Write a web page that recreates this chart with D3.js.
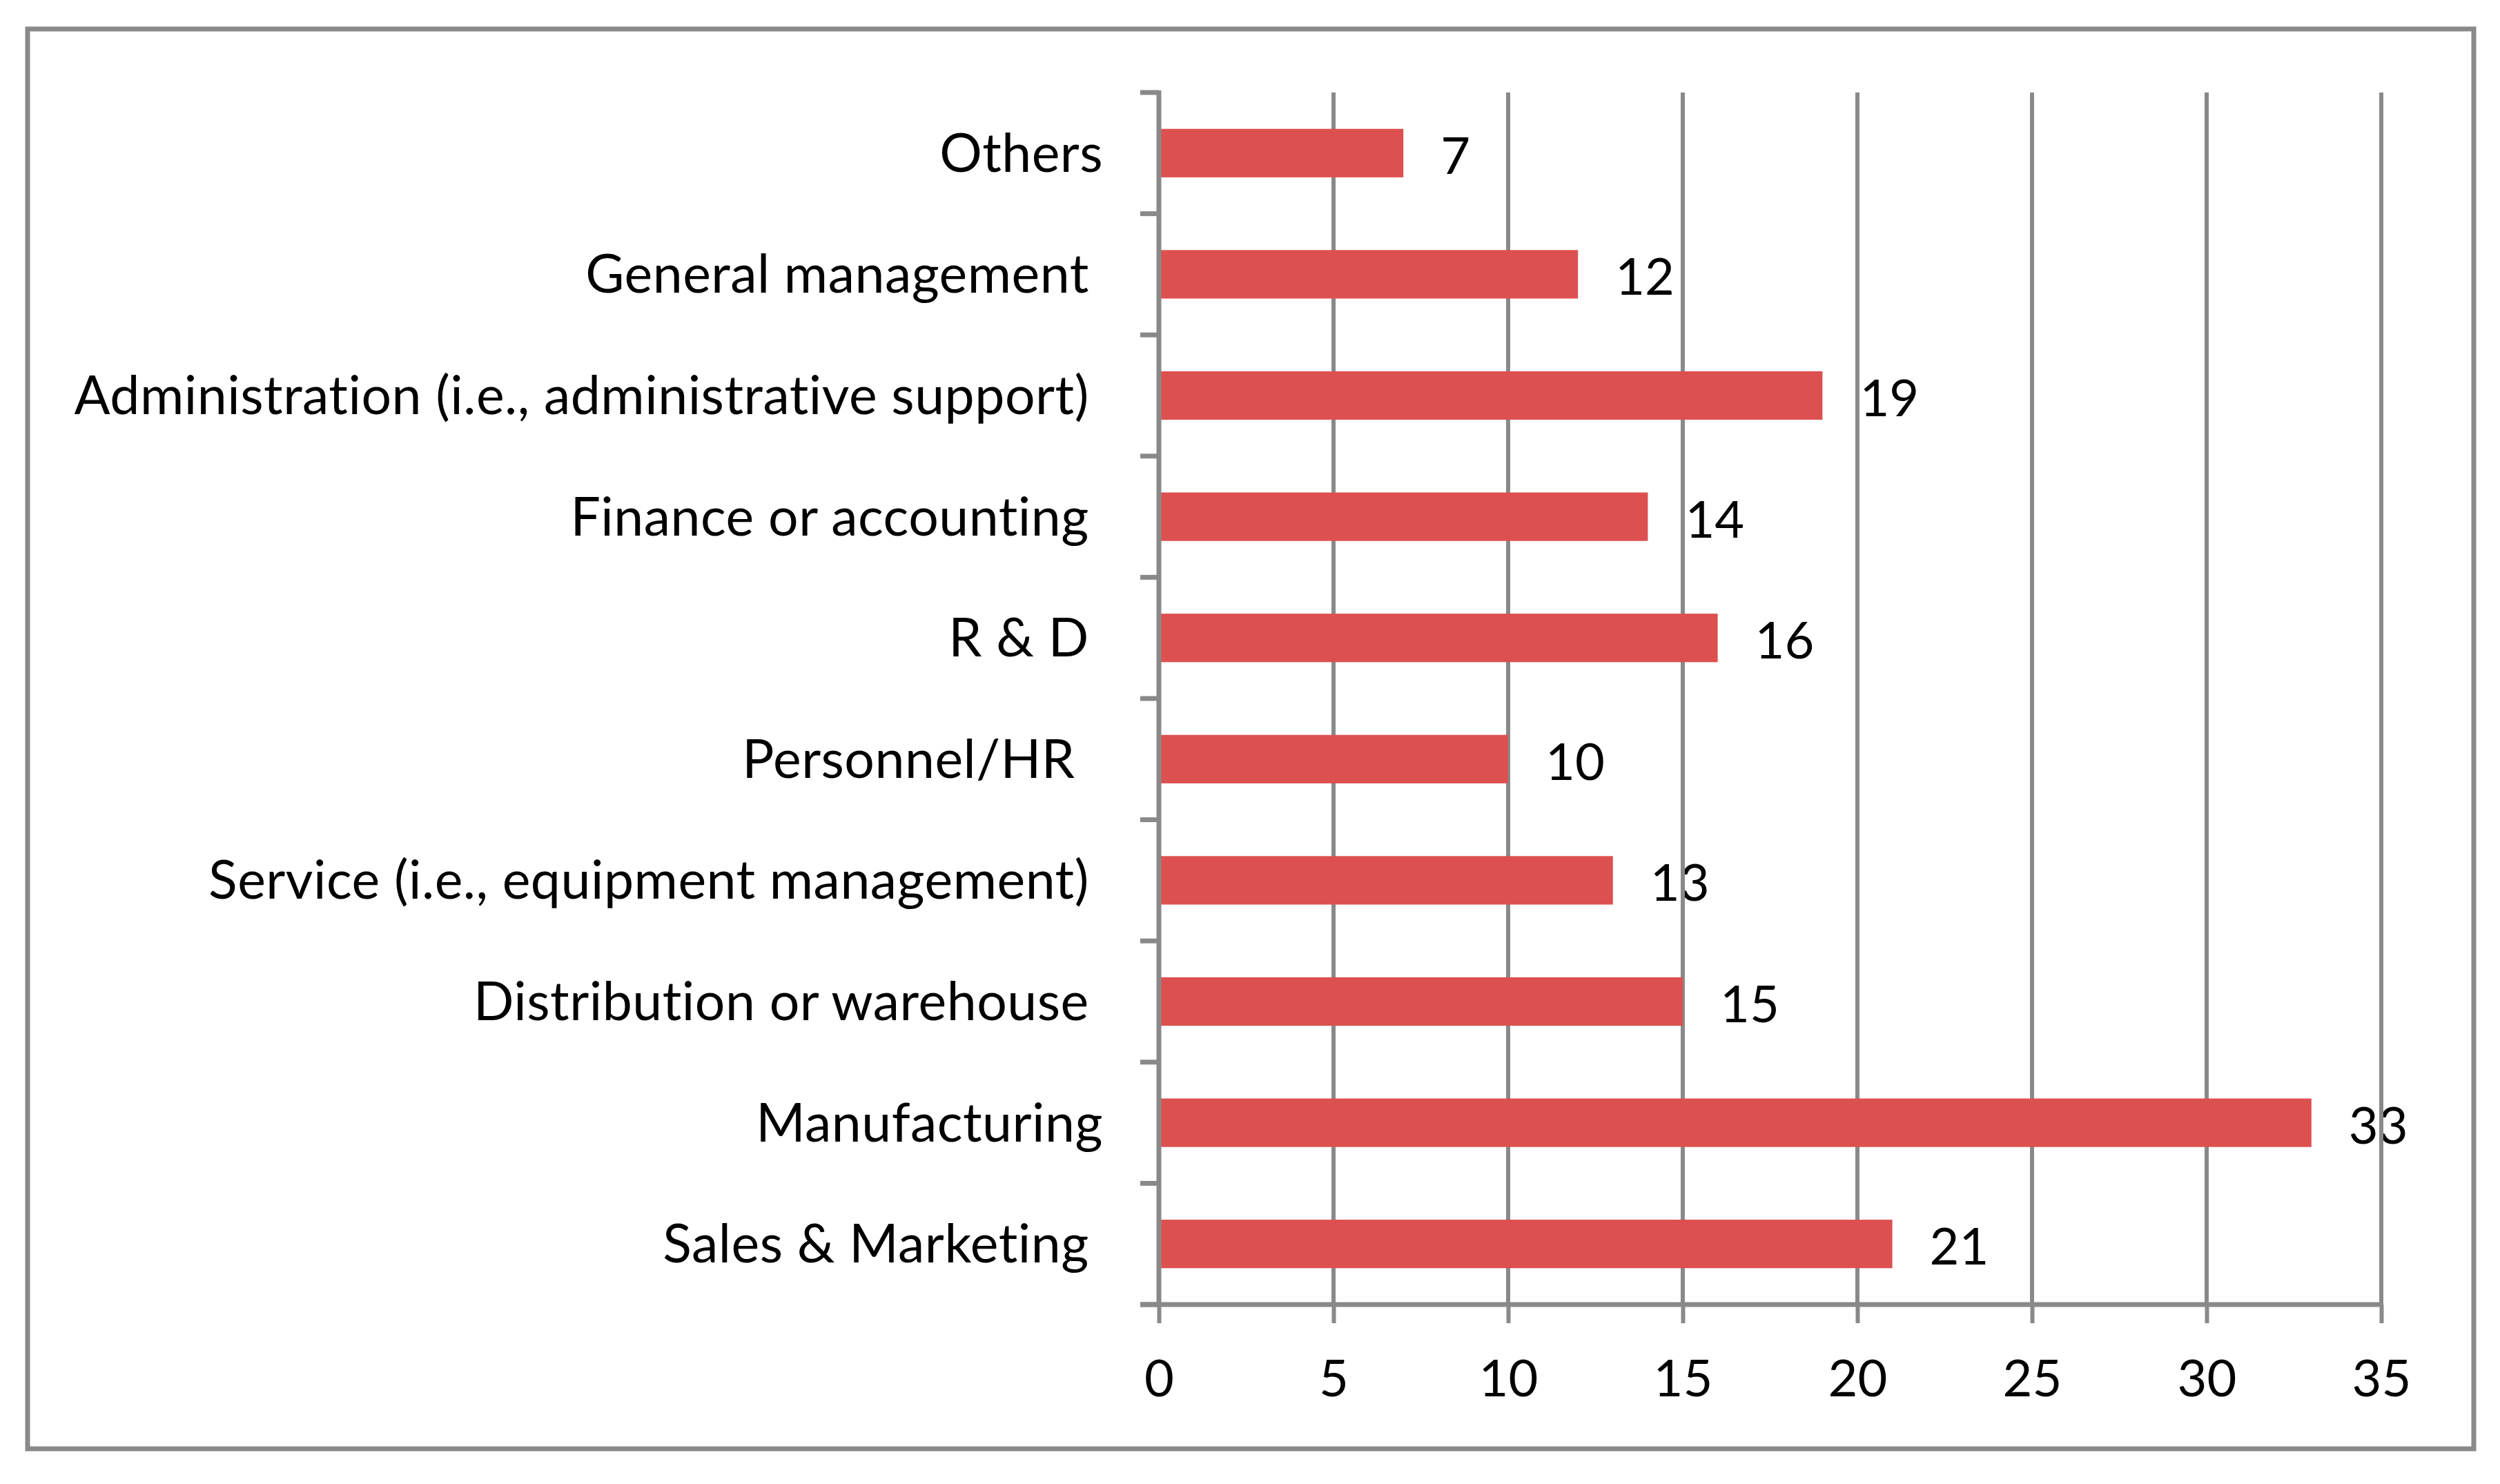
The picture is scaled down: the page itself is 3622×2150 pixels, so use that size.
<html lang="en">
  <head>
    <meta charset="utf-8">
    <script src="https://d3js.org/d3.v7.min.js"></script>
    <style type="text/css">
body {
  margin: 0;
  background: #fff;
}
text {
  font-family: Lato, "Open Sans", sans-serif;
  font-variant-ligatures: none;
  white-space: pre;
}
    </style>
  </head>
  <body>
    <div id="chart"></div>

    <script type="text/javascript">
// categories top to bottom; trailing spaces are in the source labels
const categories = [
  "Others",
  "General management ",
  "Administration (i.e., administrative support) ",
  "Finance or accounting ",
  "R & D ",
  "Personnel/HR  ",
  "Service (i.e., equipment management) ",
  "Distribution or warehouse ",
  "Manufacturing",
  "Sales & Marketing "
];
const values = [7, 12, 19, 14, 16, 10, 13, 15, 33, 21];
const xTicks = [0, 5, 10, 15, 20, 25, 30, 35];

const width = 3622;
const height = 2150;
const plot = {left: 1679, right: 3450, top: 134, bottom: 1890};
const grey = "#898989";
const barColor = "#dd5050";
const numSize = 74;
const labelSize = 77;

let x = d3.scaleLinear()
  .domain([0, 35])
  .range([plot.left, plot.right]);

let y = d3.scaleBand()
  .domain(categories)
  .range([plot.top, plot.bottom]);

let barH = y.bandwidth() * 0.4;

let svg = d3.select("#chart").append("svg")
  .attr("width", width)
  .attr("height", height)
  .attr("viewBox", [0, 0, width, height]);

svg.append("rect")
  .attr("width", width)
  .attr("height", height)
  .attr("fill", "#fff");

// outer chart border
svg.append("rect")
  .attr("x", 40)
  .attr("y", 42)
  .attr("width", 3544)
  .attr("height", 2057)
  .attr("fill", "none")
  .attr("stroke", grey)
  .attr("stroke-width", 7);

// value labels (gridlines are painted over them, as in the original)
svg.append("g")
  .selectAll("text")
  .data(values)
  .join("text")
    .attr("x", d => x(d) + 54)
    .attr("y", (d, i) => y(categories[i]) + y.bandwidth() / 2 + 30)
    .attr("font-size", numSize)
    .attr("fill", "#000")
    .text(d => d);

// vertical gridlines
svg.append("g")
  .selectAll("line")
  .data(xTicks.slice(1))
  .join("line")
    .attr("x1", d => x(d))
    .attr("x2", d => x(d))
    .attr("y1", plot.top)
    .attr("y2", plot.bottom)
    .attr("stroke", grey)
    .attr("stroke-width", 6);

// bars
svg.append("g")
  .selectAll("rect")
  .data(values)
  .join("rect")
    .attr("x", x(0) + 3)
    .attr("y", (d, i) => y(categories[i]) + (y.bandwidth() - barH) / 2)
    .attr("width", d => x(d) - x(0) - 3)
    .attr("height", barH)
    .attr("fill", barColor);

// x axis
let xAxis = g => g
  .attr("transform", `translate(0,${plot.bottom})`)
  .call(d3.axisBottom(x).tickValues(xTicks).tickSize(27).tickSizeOuter(0))
  .call(g => g.select(".domain").remove())
  .call(g => g.selectAll(".tick line")
    .attr("stroke", grey)
    .attr("stroke-width", 6))
  .call(g => g.selectAll(".tick text")
    .attr("y", 133)
    .attr("dy", null)
    .attr("font-size", numSize)
    .attr("font-family", null)
    .attr("fill", "#000"))
  .call(g => g.append("line")
    .attr("x1", plot.left - 27)
    .attr("x2", plot.right + 3)
    .attr("stroke", grey)
    .attr("stroke-width", 7));

svg.append("g").call(xAxis);

// y axis: line plus ticks at category boundaries
let boundaries = categories.map(c => y(c)).concat([plot.bottom]);

let yAxis = svg.append("g");
yAxis.append("line")
  .attr("x1", plot.left)
  .attr("x2", plot.left)
  .attr("y1", plot.top - 3)
  .attr("y2", plot.bottom)
  .attr("stroke", grey)
  .attr("stroke-width", 7);
yAxis.selectAll(".ytick")
  .data(boundaries)
  .join("line")
    .attr("class", "ytick")
    .attr("x1", plot.left - 27)
    .attr("x2", plot.left)
    .attr("y1", d => d)
    .attr("y2", d => d)
    .attr("stroke", grey)
    .attr("stroke-width", 7);

yAxis.selectAll(".ylabel")
  .data(categories)
  .join("text")
    .attr("class", "ylabel")
    .attr("x", 1598)
    .attr("y", d => y(d) + y.bandwidth() / 2 + 27)
    .attr("text-anchor", "end")
    .attr("font-size", labelSize)
    .attr("letter-spacing", 0.5)
    .attr("fill", "#000")
    .text(d => d);
    </script>
  </body>
</html>
